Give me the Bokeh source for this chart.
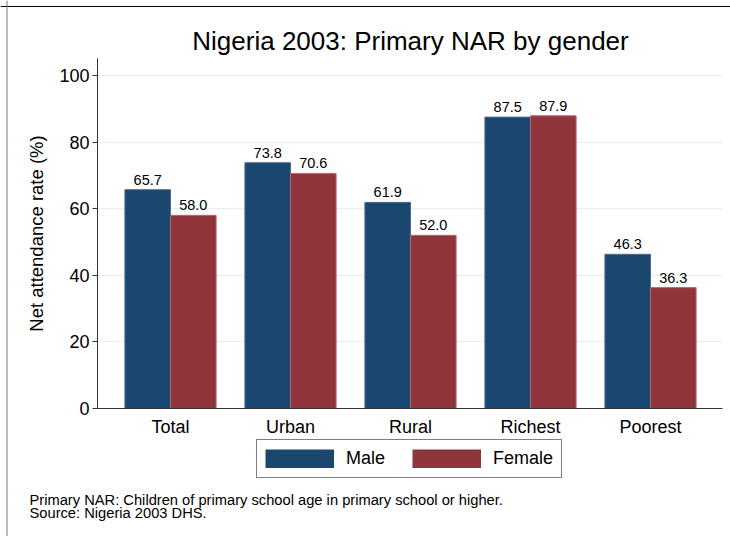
from bokeh.plotting import figure
from bokeh.models import Range1d, FixedTicker, Legend, LegendItem, Label, ColumnDataSource, Span
from bokeh.core.properties import value
from bokeh.embed import file_html
from bokeh.resources import INLINE

categories = ["Total", "Urban", "Rural", "Richest", "Poorest"]
male = [65.7, 73.8, 61.9, 87.5, 46.3]
female = [58.0, 70.6, 52.0, 87.9, 36.3]
y_ticks = [0, 20, 40, 60, 80, 100]
grid_ticks = [20, 40, 60, 80, 100]
title_text = "Nigeria 2003: Primary NAR by gender"
y_label = "Net attendance rate (%)"
notes = ["Primary NAR: Children of primary school age in primary school or higher.",
         "Source: Nigeria 2003 DHS."]

MALE_C = "#1a476f"
FEMALE_C = "#90353b"
FONT = "Liberation Sans"
W, H = 730, 536
bw = 0.38
xs = list(range(len(categories)))

# frame covers whole canvas; axes are pinned inside it
X_AXIS_POS = -0.6083
X_END = 4.6
p = figure(width=W, height=H, output_backend="svg", toolbar_location=None,
           x_range=Range1d(-1.41667, 4.66667), y_range=Range1d(-38.44, 122.52),
           min_border=0)
p.outline_line_color = None
p.background_fill_color = "white"
p.border_fill_color = "white"

# outer graph border (top and left edges visible in the original)
p.add_layout(Span(location=(408 - 6) / 3.33, dimension="width", line_color="black", line_width=1))
p.add_layout(Span(location=(6.5 - 170) / 120, dimension="height", line_color="#777777", line_width=1))

src_m = ColumnDataSource(dict(x=[x - bw / 2 for x in xs], top=male, lab=["%.1f" % v for v in male]))
src_f = ColumnDataSource(dict(x=[x + bw / 2 for x in xs], top=female, lab=["%.1f" % v for v in female]))
rm = p.vbar(x="x", top="top", width=bw, source=src_m, fill_color=MALE_C, line_color="#4d6d8c", line_width=1)
rf = p.vbar(x="x", top="top", width=bw, source=src_f, fill_color=FEMALE_C, line_color="#b06b70", line_width=1)
for s in (src_m, src_f):
    p.text(x="x", y="top", text="lab", source=s, text_align="center", text_baseline="bottom",
           y_offset=-5, text_font=value(FONT), text_font_size="14.5px", text_color="black")

# legend swatches (full-size keys, nothing drawn in the plot)
nan = float("nan")
km = p.line(x=[nan, nan], y=[nan, nan], line_color=MALE_C, line_width=19)
kf = p.line(x=[nan, nan], y=[nan, nan], line_color=FEMALE_C, line_width=19)

# x axis
xa = p.xaxis[0]
xa.fixed_location = 0
xa.bounds = (X_AXIS_POS, X_END)
xa.ticker = FixedTicker(ticks=xs)
xa.major_label_overrides = {i: c for i, c in enumerate(categories)}
xa.major_tick_line_color = None
xa.minor_tick_line_color = None
xa.major_label_text_font = FONT
xa.major_label_text_font_size = "18px"
xa.major_label_text_color = "black"
xa.major_label_standoff = 3
xa.axis_line_color = "#333333"

# y axis
ya = p.yaxis[0]
ya.fixed_location = X_AXIS_POS
ya.bounds = (0, 105)
ya.ticker = FixedTicker(ticks=y_ticks)
ya.major_label_text_font = FONT
ya.major_label_text_font_size = "18px"
ya.major_label_text_color = "black"
ya.major_label_orientation = "horizontal"
ya.major_tick_out = 5
ya.major_tick_in = 0
ya.minor_tick_line_color = None
ya.major_label_standoff = 3
ya.axis_line_color = "#333333"
ya.major_tick_line_color = "#333333"

p.xgrid.grid_line_color = None
p.ygrid.ticker = FixedTicker(ticks=grid_ticks)
p.ygrid.cross_bounds = (X_AXIS_POS, X_END)
p.ygrid.grid_line_color = "#e6eef0"
p.ygrid.grid_line_width = 1

legend = Legend(items=[LegendItem(label="Male", renderers=[km]),
                       LegendItem(label="Female", renderers=[kf])],
                orientation="horizontal", location=(256, H - 478),
                glyph_width=69, glyph_height=19, label_standoff=12, spacing=27,
                padding=8, margin=0,
                label_text_font=FONT, label_text_font_size="18px", label_text_color="black",
                border_line_color="black", border_line_width=1, background_fill_color="white")
p.add_layout(legend, "center")

def screen_label(text, x, y, size, **kw):
    p.add_layout(Label(x=x, y=y, x_units="screen", y_units="screen", text=text,
                       text_font=FONT, text_font_size=size, text_color="black", **kw))

screen_label(title_text, 410, H - 40, "26px", text_align="center", text_baseline="middle")
screen_label(y_label, 36, H - 233, "18.5px", text_align="center", text_baseline="middle",
             angle=90, angle_units="deg")
for i, t in enumerate(notes):
    screen_label(t, 29, H - 499 - 13.5 * i, "14.7px", text_align="left", text_baseline="alphabetic")

open("out.html", "w").write(file_html(p, INLINE))
